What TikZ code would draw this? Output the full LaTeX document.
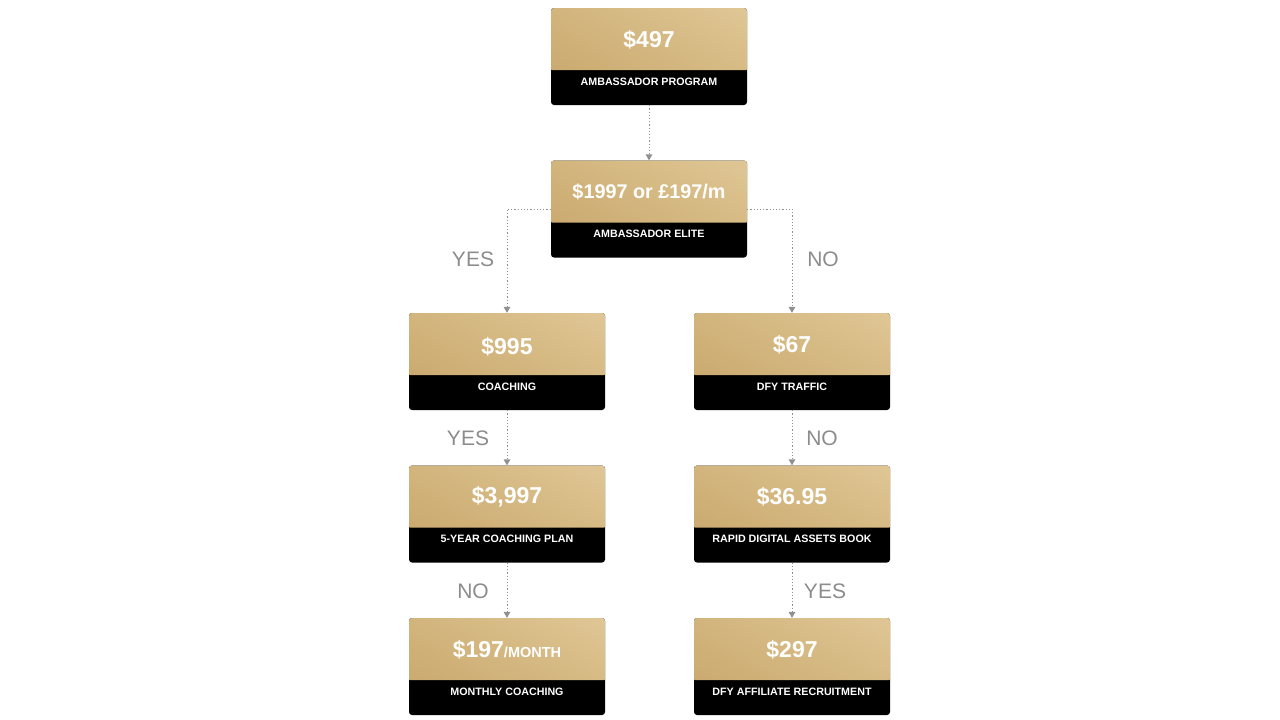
\documentclass[tikz,border=0pt]{standalone}
\usepackage{fontspec}
\setmainfont{Liberation Sans}
\usetikzlibrary{arrows.meta,shadings}
\definecolor{goldL}{HTML}{C6A468}
\definecolor{goldM}{HTML}{D2B57D}
\definecolor{goldR}{HTML}{E0C796}
\definecolor{lnk}{HTML}{909090}
\definecolor{lbl}{HTML}{8C8C8C}
\tikzset{
  box/.style={rectangle, rounded corners=3pt, minimum width=196pt, minimum height=97pt, inner sep=0pt, fill=black,
    path picture={\shade[lower left=goldL, upper right=goldR, upper left=goldM, lower right=goldM] ([xshift=-2pt,yshift=2pt]path picture bounding box.north west) rectangle ([xshift=2pt,yshift=35pt]path picture bounding box.south east);}},
  price/.style={text=white, font=\fontsize{23}{25}\selectfont\bfseries, inner sep=0pt},
  tag/.style={text=white, font=\fontsize{10.7}{12}\selectfont\bfseries, inner sep=0pt},
  conn/.style={draw=lnk, line width=0.9pt, dash pattern=on 1.2pt off 2pt, -{Triangle[width=7pt,length=6pt,fill=lnk,line width=0pt]}},
  ans/.style={text=lbl, font=\fontsize{21}{24}\selectfont, inner sep=0pt}
}
\begin{document}
\begin{tikzpicture}[x=1pt,y=-1pt]
\useasboundingbox (0,0) rectangle (1280,720);
% boxes
\node[box] (b1) at (649,56.5) {};
\node[box] (b2) at (649,209) {};
\node[box] (b3) at (507,361.5) {};
\node[box] (b4) at (792,361.5) {};
\node[box] (b5) at (507,514) {};
\node[box] (b6) at (792,514) {};
\node[box] (b7) at (507,666.5) {};
\node[box] (b8) at (792,666.5) {};
% prices
\node[price] (p1) at (649,40) {\$497};
\node[price,font=\fontsize{19.8}{22}\selectfont\bfseries] (p2) at (649,192) {\$1997 or £197/m};
\node[price] (p3) at (507,347) {\$995};
\node[price] (p4) at (792,345) {\$67};
\node[price] (p5) at (507,497) {\$3,997};
\node[price] (p6) at (792,497) {\$36.95};
\node[price] (p7) at (507,650) {\$197{\fontsize{14.5}{16}\selectfont/MONTH}};
\node[price] (p8) at (792,650) {\$297};
% tags
\node[tag] (t1) at (649,82) {AMBASSADOR PROGRAM};
\node[tag] (t2) at (649,234) {AMBASSADOR ELITE};
\node[tag] (t3) at (507,387) {COACHING};
\node[tag] (t4) at (792,387) {DFY TRAFFIC};
\node[tag] (t5) at (507,539) {5-YEAR COACHING PLAN};
\node[tag] (t6) at (792,539) {RAPID DIGITAL ASSETS BOOK};
\node[tag] (t7) at (507,692) {MONTHLY COACHING};
\node[tag] (t8) at (792,692) {DFY AFFILIATE RECRUITMENT};
% connectors
\draw[conn] (b1.south) -- (b2.north);
\draw[conn] (b2.west) -| (b3.north);
\draw[conn] (b2.east) -| (b4.north);
\draw[conn] (b3.south) -- (b5.north);
\draw[conn] (b4.south) -- (b6.north);
\draw[conn] (b5.south) -- (b7.north);
\draw[conn] (b6.south) -- (b8.north);
% answers
\node[ans] (a1) at (473,259) {YES};
\node[ans] (a2) at (823,259) {NO};
\node[ans] (a3) at (468,438) {YES};
\node[ans] (a4) at (822,438) {NO};
\node[ans] (a5) at (473,591) {NO};
\node[ans] (a6) at (825,591) {YES};
\end{tikzpicture}
\end{document}
